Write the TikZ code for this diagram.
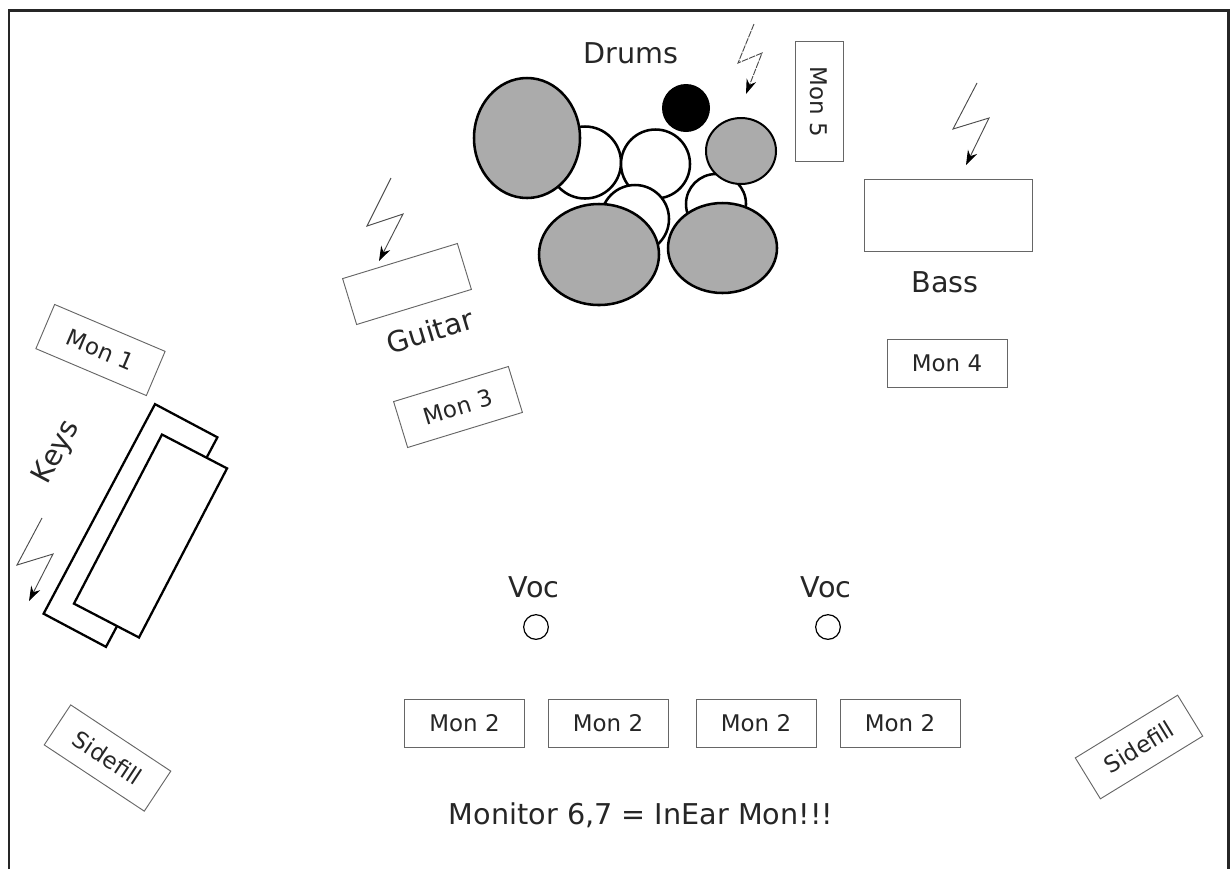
\documentclass[tikz,border=0pt]{standalone}
\usepackage{fontspec}
\setmainfont{DejaVu Sans}
\tikzset{
  monbox/.style={draw=black!60,line width=0.7pt,minimum width=90pt,minimum height=36pt,inner sep=0pt,text=black!85,font=\fontsize{17.2}{20}\selectfont},
  ampbox/.style={draw=black!60,line width=0.7pt,inner sep=0pt},
  keybox/.style={draw=black,line width=1.7pt,fill=white,inner sep=0pt},
  bigtext/.style={font=\fontsize{21.5}{25}\selectfont,text=black!85,inner sep=0pt},
  drum/.style={draw=black,line width=1.9pt,fill=white},
  cymbal/.style={draw=black,line width=1.9pt,fill=black!33},
  bolt/.style={draw=black!70,line width=0.7pt,-{Stealth[length=11pt,width=7.5pt,black]}},
  vocmark/.style={draw=black,line width=0.9pt,circle,minimum size=18.5pt,inner sep=0pt}
}
\usetikzlibrary{arrows.meta}
\begin{document}
\begin{tikzpicture}[x=0.75pt,y=-0.75pt]
\useasboundingbox (0,0) rectangle (1230,869);
\draw [line width=1.7pt,black!85] (9,869)--(9,10.5)--(1228.5,10.5)--(1228.5,869);
% drums
\draw [drum] (585,162.5) circle (36);
\draw [drum] (655.5,164) circle (34.5);
\draw [drum] (716,204) circle (30);
\draw [drum] (635,219) circle (34);
\fill (686,108) circle (24);
\draw [cymbal] (527,138) ellipse (53 and 60);
\draw [cymbal,line width=1.5pt] (741,151) ellipse (35 and 33);
\draw [cymbal] (599,254.5) ellipse (60 and 50.5);
\draw [cymbal] (722.5,248) ellipse (54.5 and 45);
\node [bigtext] (drums) at (631,53) {Drums};
\draw [bolt,dashed,dash pattern=on 5pt off 0.8pt] (754,24)--(738,63)--(762,53)--(746,94);
% amps
\node [ampbox,minimum width=126pt,minimum height=54pt] (bassamp) at (948.5,215) {};
\node [bigtext] (bass) at (945,282) {Bass};
\draw [bolt] (977,83)--(953,129)--(989,118)--(966,165);
\node [ampbox,minimum width=90pt,minimum height=36pt,rotate=17] (guitaramp) at (407,284) {};
\node [bigtext,rotate=17] (guitar) at (430,331) {Guitar};
\draw [bolt] (391,178)--(367,226)--(403,214)--(379,261);
% keys
\node [keybox,minimum width=178pt,minimum height=53pt,rotate=62] (keysrear) at (130.5,525.5) {};
\node [keybox,minimum width=143pt,minimum height=55pt,rotate=62.5] (keysfront) at (150.5,536) {};
\node [bigtext,rotate=62] (keys) at (57,452) {Keys};
\draw [bolt] (42,518)--(17,565)--(53,554)--(29,601);
% monitors
\node [monbox,rotate=-23] (mon1) at (100.5,350) {Mon 1};
\node [monbox,rotate=17] (mon3) at (458,407) {Mon 3};
\node [monbox] (mon4) at (947,363.5) {Mon 4};
\node [monbox,rotate=-90] (mon5) at (819,101.5) {Mon 5};
\node [monbox] (mona) at (464.5,723) {Mon 2};
\node [monbox] (monb) at (608,723) {Mon 2};
\node [monbox] (monc) at (756,723) {Mon 2};
\node [monbox] (mond) at (900,723) {Mon 2};
\node [monbox,rotate=-33.5] (sideleft) at (107.5,758) {Sidefill};
\node [monbox,rotate=31.5] (sideright) at (1139,747) {Sidefill};
% vocals
\node [bigtext] (voca) at (534,587) {Voc};
\node [bigtext] (vocb) at (826,587) {Voc};
\node [vocmark] (singera) at (536,627) {};
\node [vocmark] (singerb) at (828,627) {};
\node [bigtext] (inear) at (641,815) {Monitor 6,7 = InEar Mon!!!};
\end{tikzpicture}
\end{document}
